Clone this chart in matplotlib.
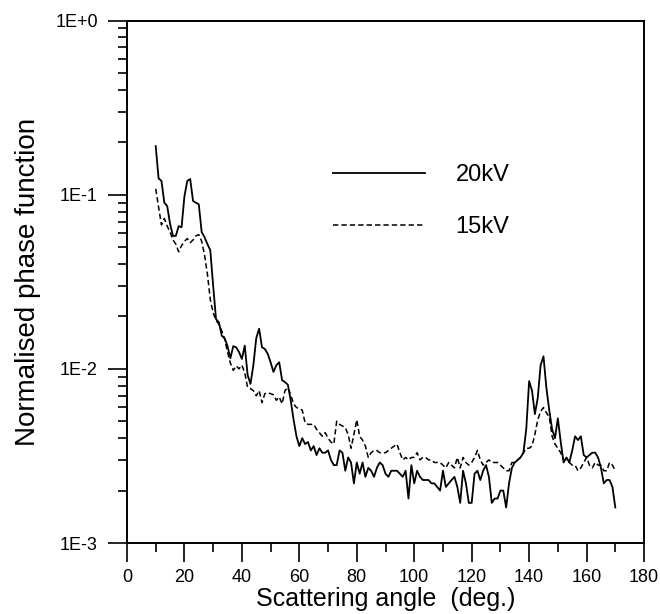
import numpy as np
import matplotlib
matplotlib.use("Agg")
import matplotlib.pyplot as plt
from matplotlib.ticker import FixedLocator, FixedFormatter, LogLocator, NullFormatter, MultipleLocator

plt.rcParams['font.family'] = ['Liberation Sans', 'DejaVu Sans']

# scattering angle (deg.), 1 degree steps
angle = np.arange(10, 171)

# normalised phase function, 20kV (solid)
kv20 = [
    0.19, 0.124, 0.12, 0.09, 0.086, 0.068, 0.058, 0.058, 0.066, 0.065,      # 10-19
    0.098, 0.12, 0.123, 0.092, 0.09, 0.088, 0.061, 0.057, 0.052, 0.048,     # 20-29
    0.03, 0.0193, 0.0185, 0.0155, 0.015, 0.0135, 0.0115, 0.0135, 0.0133, 0.0125,  # 30-39
    0.0114, 0.0136, 0.0092, 0.0082, 0.0105, 0.015, 0.017, 0.0133, 0.013, 0.0122,  # 40-49
    0.0109, 0.0096, 0.0105, 0.0109, 0.0086, 0.0084, 0.0081, 0.0066, 0.0051, 0.0041,  # 50-59
    0.0036, 0.004, 0.0037, 0.0038, 0.0034, 0.0036, 0.0032, 0.0035, 0.0033, 0.0033,  # 60-69
    0.0034, 0.003, 0.0028, 0.0028, 0.0034, 0.0033, 0.0026, 0.0031, 0.0029, 0.0022,  # 70-79
    0.0029, 0.0025, 0.0029, 0.0024, 0.0027, 0.0026, 0.0024, 0.0027, 0.0029, 0.0028,  # 80-89
    0.0025, 0.0024, 0.0026, 0.0026, 0.0026, 0.0025, 0.0024, 0.0026, 0.0018, 0.0028,  # 90-99
    0.0022, 0.0026, 0.0024, 0.0023, 0.0023, 0.0023, 0.0022, 0.0022, 0.0021, 0.002,   # 100-109
    0.0026, 0.0021, 0.0022, 0.0023, 0.0024, 0.0021, 0.0017, 0.0026, 0.0022, 0.0017,  # 110-119
    0.0017, 0.0025, 0.0026, 0.0023, 0.0026, 0.0028, 0.0024, 0.0017, 0.0018, 0.0018,  # 120-129
    0.002, 0.002, 0.0016, 0.0022, 0.0027, 0.0029, 0.003, 0.0031, 0.0033, 0.0045,    # 130-139
    0.0085, 0.0075, 0.0055, 0.0068, 0.0105, 0.0118, 0.0078, 0.0058, 0.0045, 0.004,  # 140-149
    0.0052, 0.0038, 0.0029, 0.0031, 0.0029, 0.0034, 0.0041, 0.0039, 0.0041, 0.0032,  # 150-159
    0.0031, 0.0032, 0.0033, 0.0033, 0.0031, 0.0027, 0.0022, 0.0023, 0.0023, 0.0021,  # 160-169
    0.0016,                                                                        # 170
]

# normalised phase function, 15kV (dashed)
kv15 = [
    0.108, 0.085, 0.067, 0.073, 0.066, 0.061, 0.055, 0.052, 0.047, 0.051,   # 10-19
    0.054, 0.056, 0.053, 0.055, 0.058, 0.059, 0.054, 0.045, 0.035, 0.025,   # 20-29
    0.021, 0.019, 0.018, 0.0165, 0.0148, 0.0125, 0.0108, 0.0098, 0.0104, 0.01,  # 30-39
    0.0105, 0.0095, 0.0078, 0.0077, 0.0075, 0.007, 0.0075, 0.0064, 0.0072, 0.0073,  # 40-49
    0.0072, 0.0071, 0.0066, 0.0069, 0.0063, 0.0075, 0.0078, 0.0071, 0.0063, 0.006,  # 50-59
    0.0059, 0.0058, 0.0049, 0.0048, 0.0048, 0.0048, 0.0045, 0.0043, 0.0041, 0.0043,  # 60-69
    0.004, 0.0038, 0.0037, 0.005, 0.0048, 0.0047, 0.0046, 0.0042, 0.0035, 0.0042,  # 70-79
    0.0051, 0.0041, 0.0039, 0.0036, 0.0031, 0.0033, 0.0034, 0.0034, 0.0033, 0.0033,  # 80-89
    0.0033, 0.0034, 0.0035, 0.0036, 0.0037, 0.0033, 0.003, 0.0031, 0.003, 0.0031,  # 90-99
    0.0031, 0.0033, 0.003, 0.0031, 0.0031, 0.003, 0.003, 0.0029, 0.0029, 0.0029,   # 100-109
    0.0028, 0.0027, 0.0029, 0.0028, 0.0027, 0.0031, 0.0027, 0.0031, 0.0029, 0.0028,  # 110-119
    0.0029, 0.0031, 0.0034, 0.003, 0.0028, 0.0029, 0.003, 0.0029, 0.0029, 0.0029,  # 120-129
    0.0028, 0.0027, 0.0026, 0.0026, 0.0029, 0.0029, 0.003, 0.0031, 0.0033, 0.0035,  # 130-139
    0.0035, 0.0036, 0.0042, 0.0051, 0.0057, 0.006, 0.0056, 0.0053, 0.0041, 0.0037,  # 140-149
    0.0035, 0.0033, 0.003, 0.003, 0.0029, 0.0028, 0.0028, 0.0026, 0.0027, 0.0029,  # 150-159
    0.0031, 0.0028, 0.0027, 0.0029, 0.0028, 0.0028, 0.0026, 0.0026, 0.0029, 0.0028,  # 160-169
    0.0026,                                                                        # 170
]

ytick_vals = [1e-3, 1e-2, 1e-1, 1e0]
ytick_labels = ['1E-3', '1E-2', '1E-1', '1E+0']

fig = plt.figure(figsize=(6.6, 6.14), dpi=100)
ax = fig.add_axes([0.1924, 0.1156, 0.7834, 0.851])

ax.plot(angle, kv20, color='black', linestyle='-', linewidth=1.3, label='20kV')
ax.plot(angle, kv15, color='black', linestyle=(0, (3.5, 2)), linewidth=1.1, label='15kV')

ax.set_yscale('log')
ax.set_xlim(0, 180)
ax.set_ylim(1e-3, 1e0)

ax.yaxis.set_major_locator(FixedLocator(ytick_vals))
ax.yaxis.set_major_formatter(FixedFormatter(ytick_labels))
ax.yaxis.set_minor_locator(LogLocator(base=10, subs=np.arange(2, 10)))
ax.yaxis.set_minor_formatter(NullFormatter())
ax.xaxis.set_major_locator(MultipleLocator(20))
ax.xaxis.set_minor_locator(MultipleLocator(10))

for s in ax.spines.values():
    s.set_linewidth(1.4)

ax.tick_params(which='major', direction='out', length=13.5, width=1.2, labelsize=13, pad=7.5)
ax.tick_params(which='minor', direction='out', length=6.5, width=1.2)
ax.tick_params(axis='x', which='major', pad=5)

ax.set_xlabel('Scattering angle  (deg.)', fontsize=18, labelpad=1)
ax.set_ylabel('Normalised phase function', fontsize=20, labelpad=10)

ax.legend(loc='upper left', bbox_to_anchor=(0.398, 0.725), frameon=False,
          fontsize=17, handlelength=3.9, handletextpad=1.3, labelspacing=1.28,
          borderpad=0, borderaxespad=0)

fig.savefig('out.png', dpi=100)
